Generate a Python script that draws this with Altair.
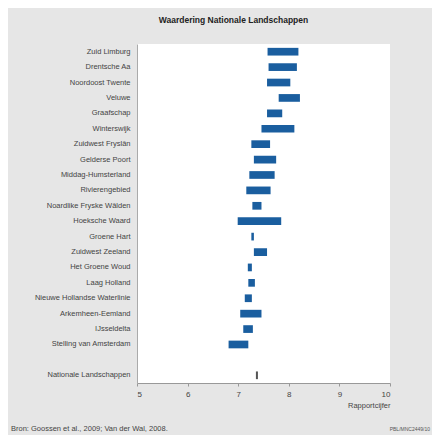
import altair as alt
import pandas as pd

names = [
    "Zuid Limburg", "Drentsche Aa", "Noordoost Twente", "Veluwe", "Graafschap",
    "Winterswijk", "Zuidwest Fryslân", "Gelderse Poort", "Middag-Humsterland",
    "Rivierengebied", "Noardlike Fryske Wâlden", "Hoeksche Waard", "Groene Hart",
    "Zuidwest Zeeland", "Het Groene Woud", "Laag Holland",
    "Nieuwe Hollandse Waterlinie", "Arkemheen-Eemland", "IJsseldelta",
    "Stelling van Amsterdam", "Nationale Landschappen",
]
low = [7.58, 7.60, 7.57, 7.80, 7.57, 7.46, 7.26, 7.31, 7.22, 7.16, 7.28, 6.99,
       7.26, 7.31, 7.19, 7.20, 7.13, 7.04, 7.10, 6.81, 7.35]
high = [8.19, 8.16, 8.03, 8.22, 7.87, 8.11, 7.63, 7.75, 7.72, 7.64, 7.46, 7.85,
        7.31, 7.57, 7.27, 7.33, 7.27, 7.46, 7.29, 7.20, 7.39]
group = ["landschap"] * 20 + ["totaal"]
x_ticks = [5, 6, 7, 8, 9, 10]

title_text = "Waardering Nationale Landschappen"
x_title = "Rapportcijfer"
source_text = "Bron: Goossen et al., 2009; Van der Wal, 2008."
code_text = "PBL/MNC2449/10"

df = pd.DataFrame({"name": names, "low": low, "high": high, "group": group})
domain = names[:20] + [" "] + names[20:]

W, H = 253, 339
FONT = "Liberation Sans"

bars = alt.Chart(df).mark_bar().encode(
    y=alt.Y("name:N", sort=domain,
            scale=alt.Scale(domain=domain, paddingInner=0.5, paddingOuter=0.25),
            axis=alt.Axis(title=None, ticks=False, labelFontSize=7.5,
                          labelColor="#444", labelPadding=7, domainColor="#aaa",
                          labelFont=FONT, labelLimit=140)),
    x=alt.X("low:Q", scale=alt.Scale(domain=[5, 10], nice=False),
            axis=alt.Axis(title=x_title, values=x_ticks, grid=False,
                          labelFontSize=8, labelColor="#444", labelFont=FONT,
                          tickSize=3, tickColor="#999", domainColor="#999",
                          labelPadding=4, titleFont=FONT, titleFontSize=7.5,
                          titleFontWeight="normal", titleColor="#444",
                          titleAnchor="end", titleAlign="right", titlePadding=3)),
    x2="high:Q",
    color=alt.Color("group:N", legend=None,
                    scale=alt.Scale(domain=["landschap", "totaal"],
                                    range=["#1a5e9f", "#555555"])),
)

src = alt.Chart(pd.DataFrame({"t": [source_text]})).mark_text(
    align="left", baseline="bottom", fontSize=7.5, font=FONT, color="#444"
).encode(text="t:N", x=alt.value(-126), y=alt.value(H + 50))

code = alt.Chart(pd.DataFrame({"t": [code_text]})).mark_text(
    align="right", baseline="bottom", fontSize=5, font=FONT, color="#555"
).encode(text="t:N", x=alt.value(W + 40), y=alt.value(H + 49))

chart = alt.layer(bars, src, code).properties(
    width=W, height=H,
    title=alt.TitleParams(title_text, fontSize=8.5, font=FONT, fontWeight="bold",
                          color="#222", anchor="middle", dx=-30, offset=20),
    autosize=alt.AutoSizeParams(type="none"),
    padding={"left": 129, "top": 36, "right": 42, "bottom": 52},
    background="#e6e6e6",
).configure_view(fill="white", stroke=None)

chart.save("out.html", embed_options={"renderer": "svg", "actions": False})
